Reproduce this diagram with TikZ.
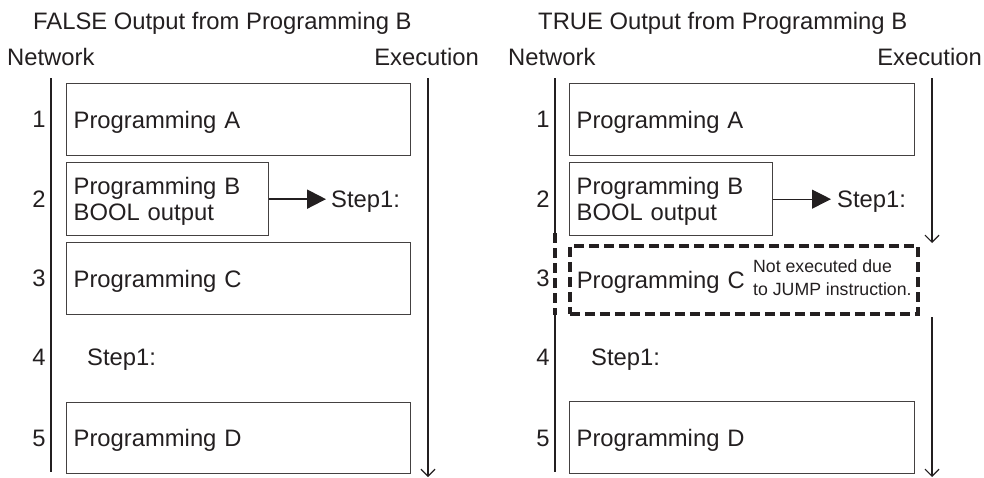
\documentclass[tikz,border=0pt]{standalone}
\usepackage{fontspec}
\setmainfont{Liberation Sans}
\usetikzlibrary{arrows.meta,positioning}
\definecolor{ink}{HTML}{231F20}

\begin{document}
\begin{tikzpicture}[x=1pt, y=-1pt, every node/.style={text=ink, font=\fontsize{23.8}{26}\selectfont}]
        \tikzset{
            box/.style={draw=ink!85, line width=1.3pt, anchor=north west, inner xsep=7pt, inner ysep=0pt, align=left},
            onerow/.style={text height=17pt, text depth=0pt},
            tworow/.style={text height=17pt, text depth=26pt},
            txt/.style={inner sep=0pt, anchor=base west},
            num/.style={inner sep=0pt, anchor=base},
            rail/.style={draw=ink, line width=1.4pt},
            exec/.style={draw=ink, line width=1.2pt, -{Straight Barb[length=7pt, width=14pt]}},
            jump/.style={draw=ink, line width=3.5pt, dash pattern=on 10pt off 5pt},
            note/.style={inner sep=0pt, anchor=north west, align=left, font=\fontsize{17.7}{23}\selectfont}
        }
        \useasboundingbox (0,0) rectangle (984,477);

        % FALSE side: nodes
        \node (titleF) [txt] at (33,29) {FALSE Output from Programming B};
        \node (netF) [txt] at (7,65) {Network};
        \node (execF) [txt, anchor=base east] at (479,65) {Execution};
        \node (aF) [box, onerow, text width=330pt, minimum height=72pt] at (66,83) {Programming A};
        \node (bF) [box, tworow, text width=188pt, minimum height=73pt] at (66,162) {Programming B\\BOOL output};
        \node (sF) [txt] at (331,207) {Step1:};
        \node (cF) [box, onerow, text width=330pt, minimum height=72pt] at (66,242) {Programming C};
        \node (jF) [txt] at (87,365) {Step1:};
        \node (dF) [box, onerow, text width=330pt, minimum height=71pt] at (66,402) {Programming D};
        \node (n1F) [num] at (39,127) {1};
        \node (n2F) [num] at (39,207) {2};
        \node (n3F) [num] at (39,286) {3};
        \node (n4F) [num] at (39,365) {4};
        \node (n5F) [num] at (39,446) {5};
        \coordinate (railF1) at (51,78);
        \coordinate (railF2) at (51,472);
        \coordinate (execF1) at (428,78);
        \coordinate (execF2) at (428,477);

        % FALSE side: arrows
        \draw [rail] (railF1) -- (railF2);
        \draw [exec] (execF1) -- (execF2);
        \draw [draw=ink, line width=2pt, -{Triangle[length=19pt, width=19pt]}, shorten >=5pt] (bF.east) -- (bF.east -| sF.west);

        \begin{scope}[xshift=504pt]
        % TRUE side: nodes
        \node (titleT) [txt] at (34,29) {TRUE Output from Programming B};
        \node (netT) [txt] at (4,65) {Network};
        \node (execT) [txt, anchor=base east] at (478,65) {Execution};
        \node (aT) [box, onerow, text width=331pt, minimum height=72pt] at (65,83) {Programming A};
        \node (bT) [box, tworow, text width=189pt, minimum height=73pt] at (65,162) {Programming B\\BOOL output};
        \node (sT) [txt] at (333,207) {Step1:};
        \node (cT) [box, onerow, jump, text width=334pt, minimum height=68pt] at (64,244) {Programming C};
        \node (noteT) [note] at (249,259) {Not executed due\\to JUMP instruction.};
        \node (jT) [txt] at (87,365) {Step1:};
        \node (dT) [box, onerow, text width=331pt, minimum height=72pt] at (65,401) {Programming D};
        \node (n1T) [num] at (39,127) {1};
        \node (n2T) [num] at (39,207) {2};
        \node (n3T) [num] at (39,286) {3};
        \node (n4T) [num] at (39,365) {4};
        \node (n5T) [num] at (39,446) {5};
        \coordinate (railT1) at (51,78);
        \coordinate (railT2) at (51,233);
        \coordinate (railT3) at (51,315);
        \coordinate (railT4) at (51,472);
        \coordinate (execT1) at (428,78);
        \coordinate (execT2) at (428,243);
        \coordinate (execT3) at (428,317);
        \coordinate (execT4) at (428,477);

        % TRUE side: arrows
        \draw [rail] (railT1) -- (railT2);
        \draw [rail, jump] (railT2) -- (railT3);
        \draw [rail] (railT3) -- (railT4);
        \draw [exec] (execT1) -- (execT2);
        \draw [exec] (execT3) -- (execT4);
        \draw [draw=ink, line width=1.1pt, -{Triangle[length=19pt, width=19pt]}, shorten >=6pt] (bT.east) -- (bT.east -| sT.west);
        \end{scope}
\end{tikzpicture}
\end{document}
